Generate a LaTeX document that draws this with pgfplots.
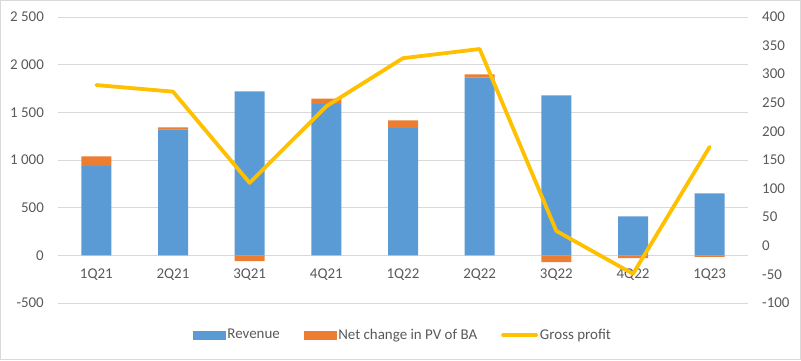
\documentclass[border=0pt]{standalone}
\usepackage{pgfplots}
\pgfplotsset{compat=1.18}
\usepackage{fontspec}
\setmainfont{Carlito}
\definecolor{rev}{HTML}{5B9BD5}
\definecolor{net}{HTML}{ED7D31}
\definecolor{gp}{HTML}{FFC000}
\definecolor{txt}{HTML}{595959}
\definecolor{grd}{HTML}{D9D9D9}
\begin{document}
\fontsize{15}{17}\selectfont
\begin{tikzpicture}[x=1bp,y=1bp]
\useasboundingbox (0,0) rectangle (801,360);
\draw[grd] (0.5,0.5) rectangle (800.5,359.5);
\pgfplotsset{base/.style={scale only axis, width=690bp, height=286bp,
  at={(58bp,57bp)}, anchor=south west, xmin=-0.5, xmax=8.5,
  axis line style={draw=none}, major tick length=0pt, tick style={draw=none},
  ticklabel style={font=\fontsize{15}{17}\selectfont, text=txt}}}
% bars: revenue + positive net change
\begin{axis}[base, ymin=-500, ymax=2500,
  ytick={-500,0,500,1000,1500,2000,2500},
  yticklabels={-500,0,500,1 000,1 500,2 000,2 500},
  yticklabel style={anchor=east, xshift=-9bp},
  ymajorgrids, grid style={grd, line width=0.9bp},
  xtick={0,...,8},
  xticklabels={1Q21,2Q21,3Q21,4Q21,1Q22,2Q22,3Q22,4Q22,1Q23},
  xticklabel style={anchor=center, yshift=28bp},
  ybar stacked, bar width=30bp]
\addplot[fill=rev, draw=none] coordinates {(0,936) (1,1320) (2,1719) (3,1590) (4,1334) (5,1865) (6,1677) (7,409) (8,650)};
\addplot[fill=net, draw=none] coordinates {(0,101) (1,21) (2,0) (3,55) (4,81) (5,32) (6,0) (7,0) (8,0)};
\end{axis}
% negative net change
\begin{axis}[base, ymin=-500, ymax=2500, xtick=\empty, ytick=\empty,
  ybar, bar width=30bp, bar shift=0pt]
\addplot[fill=net, draw=none] coordinates {(2,-60) (6,-70) (7,-28) (8,-15)};
\end{axis}
% gross profit line
\begin{axis}[base, ymin=-100, ymax=400, clip=false,
  ytick={-100,-50,0,50,100,150,200,250,300,350,400},
  yticklabels={-100,-50,0,50,100,150,200,250,300,350,400},
  yticklabel pos=right,
  yticklabel style={anchor=west, xshift=9bp},
  xtick=\empty,
  legend columns=3,
  legend style={at={(0.5,-0.112)}, anchor=center, draw=none, fill=none,
    font=\fontsize{15}{17}\selectfont, text=txt,
    nodes={inner sep=2bp},
    /tikz/every even column/.append style={column sep=22bp}}]
\addlegendimage{legend image code/.code={\fill[rev] (0bp,-4bp) rectangle (32bp,4bp);}}
\addlegendentry{Revenue}
\addlegendimage{legend image code/.code={\fill[net] (0bp,-4bp) rectangle (32bp,4bp);}}
\addlegendentry{Net change in PV of BA}
\addplot[gp, line width=3.8bp, line join=round, line cap=round, mark=none,
  legend image code/.code={\draw[gp, line width=3.8bp] (0bp,0bp) -- (33bp,0bp);}]
  coordinates {(0,281) (1,269.5) (2,110) (3,244) (4,328) (5,344) (6,26) (7,-49) (8,173)};
\addlegendentry{Gross profit}
\end{axis}
\end{tikzpicture}
\end{document}
